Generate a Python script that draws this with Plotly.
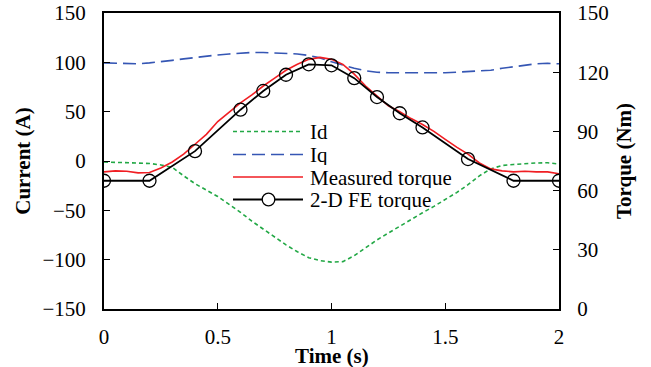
import plotly.graph_objects as go

# ---- data ----
t_curr = [0.0, 0.05, 0.1, 0.15, 0.2, 0.25, 0.3, 0.35, 0.4, 0.45, 0.5, 0.55, 0.6, 0.65, 0.7,
          0.75, 0.8, 0.85, 0.9, 0.95, 1.0, 1.05, 1.1, 1.15, 1.2, 1.25, 1.3, 1.35, 1.4, 1.45,
          1.5, 1.55, 1.6, 1.65, 1.7, 1.75, 1.8, 1.85, 1.9, 1.95, 2.0]
id_vals = [-1, -1.2, -1.5, -2, -2.5, -4, -6.5, -15, -23, -29.5, -36, -44, -52, -61, -69,
           -77, -85, -92, -98, -101, -102.5, -102, -96, -88, -80, -73, -66, -59, -52.5, -46,
           -39, -32, -24, -15, -8, -4.5, -3.5, -2.5, -2, -1.8, -3]
iq_vals = [99.5, 99, 98.5, 98.5, 99.5, 100.5, 102, 103.5, 105, 106.5, 107.5, 108.5, 109.5, 110, 110,
           109.5, 109.5, 108.5, 107, 104.5, 100.5, 97, 94, 91.5, 90, 89.5, 89.5, 89, 89, 89.5,
           89.5, 90, 90.5, 91, 92, 94, 95.5, 97, 98.5, 99, 98.5]
meas_torque = [69.5, 70, 69.8, 69, 69.2, 71.5, 74.5, 78.5, 83.5, 88.5, 95, 100, 104.5, 108.5, 113,
               117, 121, 124, 126.5, 127.5, 126.5, 124, 119, 113, 108, 103, 100, 96.5, 93.5, 90,
               86, 82, 78.5, 74, 71, 70, 69.5, 69.8, 69.5, 69.5, 68.5]
t_fe = [0.0, 0.2, 0.4, 0.6, 0.7, 0.8, 0.9, 1.0, 1.1, 1.2, 1.3, 1.4, 1.6, 1.8, 2.0]
fe_torque = [65, 65, 80, 101, 110.5, 118.7, 124, 123.5, 117, 107.4, 99.2, 92, 76, 65, 65]

x_ticks = [0, 0.5, 1, 1.5, 2]
x_tick_text = ["0", "0.5", "1", "1.5", "2"]
y1_ticks = [-150, -100, -50, 0, 50, 100, 150]
y2_ticks = [0, 30, 60, 90, 120, 150]

legend_names = ["Id", "Iq", "Measured torque", "2-D FE torque"]

GREEN = "#22A845"
BLUE = "#3556B4"
RED = "#F01E23"
FONT = "Liberation Serif"

fig = go.Figure()
fig.add_trace(go.Scatter(x=t_curr, y=id_vals, mode="lines", name=legend_names[0],
                         line=dict(color=GREEN, width=1.6, dash="4px,3px"), yaxis="y"))
fig.add_trace(go.Scatter(x=t_curr, y=iq_vals, mode="lines", name=legend_names[1],
                         line=dict(color=BLUE, width=1.6, dash="13px,6px"), yaxis="y"))
fig.add_trace(go.Scatter(x=t_curr, y=meas_torque, mode="lines", name=legend_names[2],
                         line=dict(color=RED, width=1.6), yaxis="y2"))
fig.add_trace(go.Scatter(x=t_fe, y=fe_torque, mode="lines+markers", name=legend_names[3],
                         line=dict(color="black", width=1.8),
                         marker=dict(symbol="circle-open", size=13, color="black",
                                     line=dict(width=1.3, color="black")),
                         yaxis="y2"))

# Manual legend (layout decoration in paper coordinates)
L, R, T, B = 104, 559, 13, 309
def px_x(p):
    return (p - L) / (R - L)
def px_y(p):
    return (B - p) / (B - T)

rows = [131.5, 154.5, 177, 199.5]
styles = [dict(color=GREEN, width=1.6, dash="4px,3px"),
          dict(color=BLUE, width=1.6, dash="13px,6px"),
          dict(color=RED, width=1.6),
          dict(color="black", width=1.8)]
shapes = []
annotations = []
for name, ry, st in zip(legend_names, rows, styles):
    shapes.append(dict(type="line", xref="paper", yref="paper",
                       x0=px_x(233), x1=px_x(303), y0=px_y(ry), y1=px_y(ry), line=st))
    annotations.append(dict(text=name, xref="paper", yref="paper", x=px_x(309), y=px_y(ry),
                            xanchor="left", yanchor="middle", showarrow=False, height=21,
                            borderpad=0,
                            font=dict(family=FONT, size=21, color="black")))
cx, cy, rad = 268.5, rows[3], 6.3
shapes.append(dict(type="circle", xref="paper", yref="paper",
                   x0=px_x(cx - rad), x1=px_x(cx + rad), y0=px_y(cy + rad), y1=px_y(cy - rad),
                   line=dict(color="black", width=1.3), fillcolor="white"))

# x-axis title as an annotation, placed below the tick labels
annotations.append(dict(text="<b>Time (s)</b>", xref="paper", yref="paper",
                        x=0.5, y=px_y(356), xanchor="center", yanchor="middle",
                        showarrow=False, borderpad=0,
                        font=dict(family=FONT, size=21, color="black")))

axis_common = dict(showline=True, linecolor="black", linewidth=2, ticks="inside",
                   ticklen=6, tickwidth=1.3, tickcolor="black", showgrid=False, zeroline=False,
                   automargin=False,
                   tickfont=dict(family=FONT, size=21, color="black"))

fig.update_layout(
    width=651, height=367,
    margin=dict(l=L, r=651 - R, t=T, b=367 - B),
    paper_bgcolor="white", plot_bgcolor="white",
    showlegend=False,
    font=dict(family=FONT, size=21, color="black"),
    xaxis=dict(range=[0, 2], tickvals=x_ticks, ticktext=x_tick_text, mirror=True,
               ticklabelstandoff=8,
               **axis_common),
    yaxis=dict(range=[-150, 150], tickvals=y1_ticks, ticklabelstandoff=12,
               title=dict(text="<b>Current (A)</b>", font=dict(family=FONT, size=21), standoff=6),
               **axis_common),
    yaxis2=dict(range=[0, 150], tickvals=y2_ticks, overlaying="y", side="right",
                ticklabelstandoff=12,
                title=dict(text="<b>Torque (Nm)</b>", font=dict(family=FONT, size=21), standoff=9),
                **axis_common),
    shapes=shapes, annotations=annotations,
)

fig.write_html("out.html")
